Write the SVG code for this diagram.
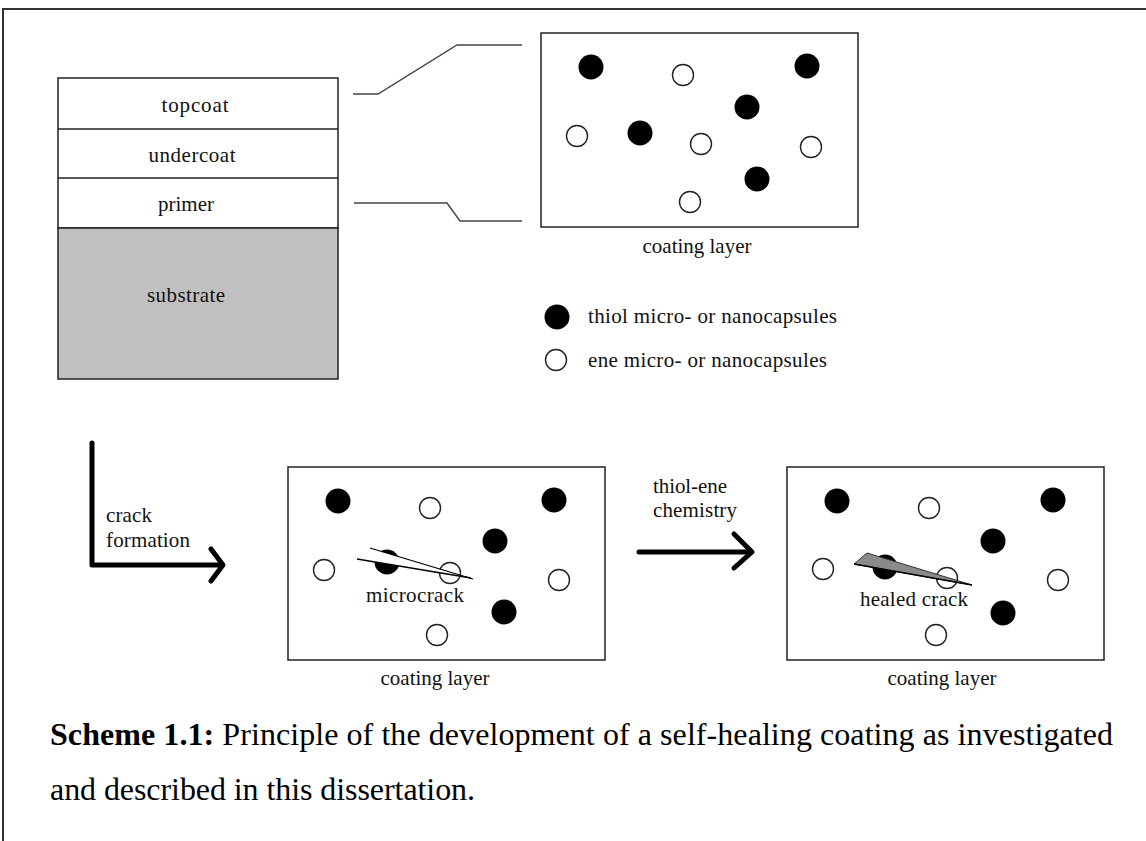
<svg xmlns="http://www.w3.org/2000/svg" width="1146" height="841" viewBox="0 0 1146 841">
<style>
.frame{fill:none;stroke:#333;stroke-width:2}
.box{fill:#fff;stroke:#222;stroke-width:1.5}
.sub{fill:#c0c0c0;stroke:#222;stroke-width:1.5}
.lbl{font-family:"Liberation Serif","Times New Roman",serif;font-size:21px;fill:#111}
.cap{font-family:"Liberation Serif","Times New Roman",serif;font-size:32px;fill:#000}
.full{fill:#000}
.open{fill:#fff;stroke:#222;stroke-width:1.4}
.conn{fill:none;stroke:#444;stroke-width:1.4}
.arr{fill:none;stroke:#000;stroke-width:5;stroke-linecap:round;stroke-linejoin:round}
</style>
<rect x="0" y="0" width="1146" height="841" fill="#fff"/>
<path class="frame" d="M3,841 V9 H1146"/>

<g id="layers">
<rect class="box" x="58" y="78" width="280" height="150"/>
<line x1="58" y1="129" x2="338" y2="129" stroke="#222" stroke-width="1.5"/>
<line x1="58" y1="178" x2="338" y2="178" stroke="#222" stroke-width="1.5"/>
<rect class="sub" x="58" y="228" width="280" height="151"/>
<text class="lbl" x="195" y="112" text-anchor="middle" textLength="67">topcoat</text>
<text class="lbl" x="192" y="162" text-anchor="middle" textLength="87">undercoat</text>
<text class="lbl" x="186" y="211" text-anchor="middle" textLength="56">primer</text>
<text class="lbl" x="186" y="302" text-anchor="middle" textLength="78">substrate</text>
</g>

<g id="connectors">
<polyline class="conn" points="353,94 378,94 457,45 522,45"/>
<polyline class="conn" points="354,203 447,203 460,221 522,221"/>
</g>

<g id="coating1">
<rect class="box" x="541" y="33" width="317" height="194"/>
<circle class="full" cx="591" cy="67" r="12.5"/>
<circle class="full" cx="807" cy="66" r="12.5"/>
<circle class="full" cx="747" cy="107" r="12.5"/>
<circle class="full" cx="640" cy="133" r="12.5"/>
<circle class="full" cx="757" cy="179" r="12.5"/>
<circle class="open" cx="683" cy="75" r="10.5"/>
<circle class="open" cx="577" cy="136" r="10.5"/>
<circle class="open" cx="701" cy="144" r="10.5"/>
<circle class="open" cx="811" cy="147" r="10.5"/>
<circle class="open" cx="690" cy="202" r="10.5"/>
<text class="lbl" x="697" y="253" text-anchor="middle" textLength="109">coating layer</text>
</g>

<g id="legend">
<circle class="full" cx="557" cy="317" r="12.5"/>
<circle class="open" cx="556" cy="360" r="10.5"/>
<text class="lbl" x="588" y="323" textLength="249">thiol micro- or nanocapsules</text>
<text class="lbl" x="588" y="367" textLength="239">ene micro- or nanocapsules</text>
</g>

<g id="crack-formation">
<polyline class="arr" points="92,443 92,565 221,565"/>
<polyline class="arr" points="211,549 223,565 211,581"/>
<text class="lbl" x="106" y="522" textLength="46">crack</text>
<text class="lbl" x="106" y="547" textLength="84">formation</text>
</g>

<g id="coating2">
<rect class="box" x="288" y="467" width="317" height="193"/>
<circle class="full" cx="338" cy="501" r="12.5"/>
<circle class="full" cx="554" cy="500" r="12.5"/>
<circle class="full" cx="495" cy="541" r="12.5"/>
<circle class="full" cx="387" cy="562" r="12.5"/>
<circle class="full" cx="504" cy="612" r="12.5"/>
<circle class="open" cx="430" cy="508" r="10.5"/>
<circle class="open" cx="324" cy="570" r="10.5"/>
<circle class="open" cx="450" cy="573" r="10.5"/>
<circle class="open" cx="559" cy="580" r="10.5"/>
<circle class="open" cx="437" cy="635" r="10.5"/>
<polygon points="370,548 473,579 357,559" fill="#fff" stroke="none"/>
<line x1="370" y1="548" x2="473" y2="579" stroke="#000" stroke-width="1.3"/>
<line x1="357" y1="559" x2="471" y2="578" stroke="#000" stroke-width="1.3"/>
<text class="lbl" x="366" y="602" textLength="98">microcrack</text>
<text class="lbl" x="435" y="685" text-anchor="middle" textLength="109">coating layer</text>
</g>

<g id="thiol-ene">
<line class="arr" x1="639" y1="552" x2="751" y2="552"/>
<polyline class="arr" points="734,534 752,552 734,568"/>
<text class="lbl" x="653" y="493" textLength="74">thiol-ene</text>
<text class="lbl" x="653" y="517" textLength="84">chemistry</text>
</g>

<g id="coating3">
<rect class="box" x="787" y="467" width="317" height="193"/>
<circle class="full" cx="837" cy="501" r="12.5"/>
<circle class="full" cx="1053" cy="500" r="12.5"/>
<circle class="full" cx="993" cy="541" r="12.5"/>
<circle class="full" cx="885" cy="567" r="12.5"/>
<circle class="full" cx="1003" cy="613" r="12.5"/>
<circle class="open" cx="929" cy="508" r="10.5"/>
<circle class="open" cx="823" cy="569" r="10.5"/>
<circle class="open" cx="947" cy="578" r="10.5"/>
<circle class="open" cx="1058" cy="580" r="10.5"/>
<circle class="open" cx="936" cy="635" r="10.5"/>
<polygon points="854,564 867,553 972,585" fill="#8a8a8a" stroke="#333" stroke-width="1" stroke-linejoin="round"/>
<line x1="854" y1="564" x2="972" y2="585" stroke="#000" stroke-width="1.3"/>
<text class="lbl" x="860" y="606" textLength="108">healed crack</text>
<text class="lbl" x="942" y="685" text-anchor="middle" textLength="109">coating layer</text>
</g>

<g id="caption">
<text class="cap" x="50" y="745" textLength="1063"><tspan font-weight="bold">Scheme 1.1:</tspan> Principle of the development of a self-healing coating as investigated</text>
<text class="cap" x="50" y="800" textLength="425">and described in this dissertation.</text>
</g>
</svg>
